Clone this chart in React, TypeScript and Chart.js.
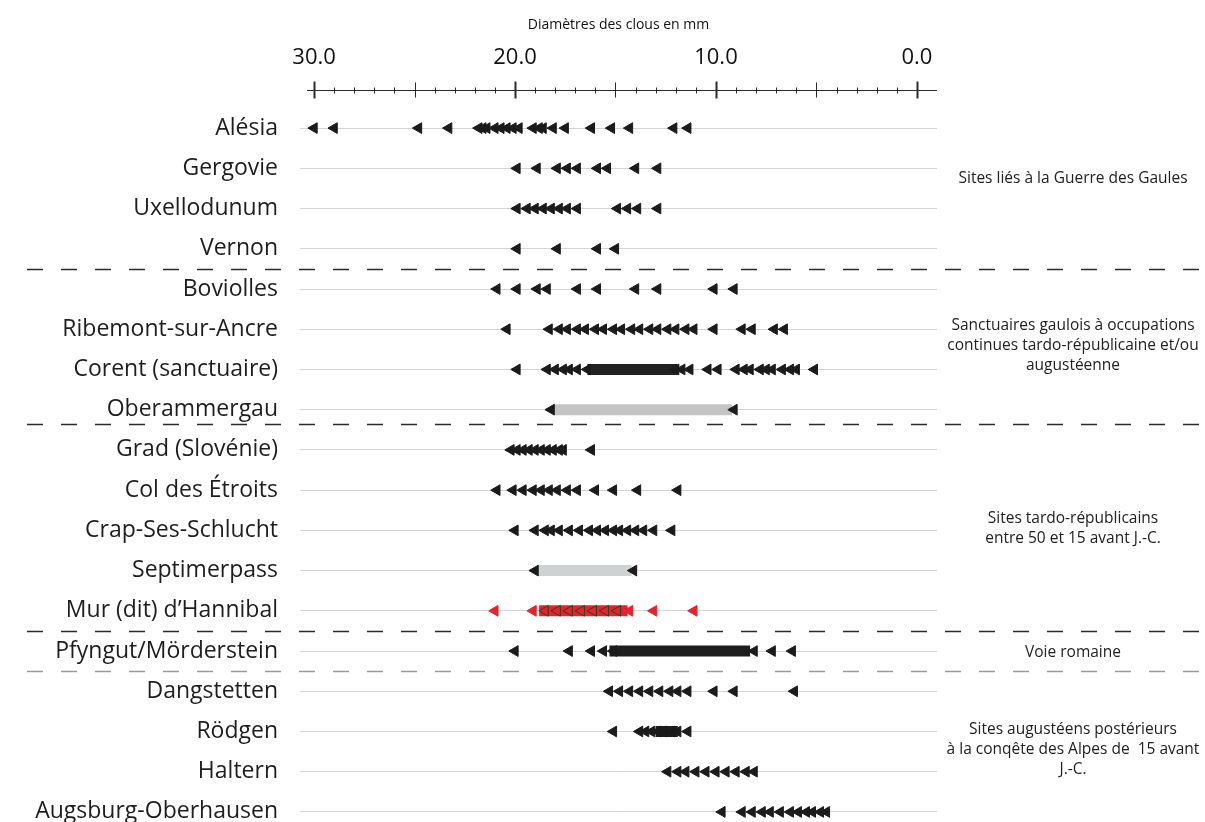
import React, { useEffect, useRef } from "react";
import { Chart, registerables } from "chart.js";
Chart.register(...registerables);

const FONT = "'Open Sans', 'Noto Sans', sans-serif";

const sites = [
  "Alésia", "Gergovie", "Uxellodunum", "Vernon", "Boviolles", "Ribemont-sur-Ancre",
  "Corent (sanctuaire)", "Oberammergau", "Grad (Slovénie)", "Col des Étroits",
  "Crap-Ses-Schlucht", "Septimerpass", "Mur (dit) d’Hannibal", "Pfyngut/Mörderstein",
  "Dangstetten", "Rödgen", "Haltern", "Augsburg-Oberhausen",
];

const xTickLabels = [30, 20, 10, 0];
const axisTitle = "Diamètres des clous en mm";

// nail diameters (mm) per site
const alesia = [30.0, 29.0, 24.8, 23.3, 21.8, 21.6, 21.4, 21.0, 20.7, 20.4, 20.1, 19.8, 19.1, 18.8, 18.6, 18.1, 17.5, 16.2, 15.2, 14.3, 12.1, 11.4];
const gergovie = [19.9, 18.9, 17.9, 17.4, 16.9, 15.9, 15.4, 14.0, 12.9];
const uxellodunum = [19.9, 19.4, 19.0, 18.6, 18.2, 17.8, 17.4, 16.9, 14.9, 14.4, 13.9, 12.9];
const vernon = [19.9, 17.9, 15.9, 15.0];
const boviolles = [20.9, 19.9, 18.9, 18.4, 16.9, 15.9, 14.0, 12.9, 10.1, 9.1];
const ribemont = [20.4, 18.3, 17.8, 17.4, 16.9, 16.5, 16.0, 15.6, 15.1, 14.7, 14.2, 13.8, 13.3, 12.9, 12.4, 12.0, 11.5, 11.1, 10.1, 8.7, 8.2, 7.1, 6.6];
const corent = [19.9, 18.4, 18.0, 17.6, 17.3, 16.9, 16.4, 12.0, 11.7, 11.3, 10.4, 9.9, 9.0, 8.6, 8.3, 7.8, 7.5, 7.2, 6.7, 6.3, 6.0, 5.1];
const oberammergau = [18.2, 9.1];
const grad = [20.2, 19.9, 19.6, 19.3, 19.0, 18.7, 18.4, 18.1, 17.8, 17.6, 16.2];
const colEtroits = [20.9, 20.1, 19.6, 19.1, 18.7, 18.3, 17.9, 17.4, 16.9, 16.0, 15.1, 13.9, 11.9];
const crapSes = [20.0, 19.0, 18.5, 18.2, 17.8, 17.3, 16.8, 16.3, 15.9, 15.5, 15.1, 14.8, 14.4, 14.0, 13.6, 13.1, 12.2];
const septimerpass = [19.0, 14.1];
const murHannibal = [21.0, 19.1, 18.5, 17.9, 17.3, 16.7, 16.1, 15.5, 14.9, 14.3, 13.1, 11.1];
const pfyngut = [20.0, 17.3, 16.2, 15.6, 15.1, 8.1, 7.2, 6.2];
const dangstetten = [15.3, 14.8, 14.3, 13.8, 13.3, 12.8, 12.3, 11.9, 11.4, 10.1, 9.1, 6.1];
const rodgen = [15.1, 13.8, 13.5, 13.2, 12.9, 12.6, 12.2, 11.9, 11.4];
const haltern = [12.4, 11.9, 11.5, 11.0, 10.5, 10.0, 9.5, 9.0, 8.5, 8.1];
const augsburg = [9.7, 8.7, 8.2, 7.7, 7.3, 6.8, 6.3, 5.9, 5.5, 5.2, 4.8, 4.5];

// dense ranges drawn as continuous bars [from, to] in mm
const corentRange = [16.4, 11.9];
const oberammergauRange = [18.1, 9.2];
const septimerRange = [18.9, 14.2];
const murRange = [18.8, 14.4];
const pfyngutRange = [15.3, 8.3];
const rodgenRange = [13.0, 11.9];

const separatorsAt = [3.5, 7.35, 12.5, 13.5];
const groupNotes = [
  { lines: ["Sites liés à la Guerre des Gaules"], at: 1.25 },
  { lines: ["Sanctuaires gaulois à occupations", "continues tardo-républicaine et/ou", "augustéenne"], at: 5.4 },
  { lines: ["Sites tardo-républicains", "entre 50 et 15 avant J.-C."], at: 9.95 },
  { lines: ["Voie romaine"], at: 13.05 },
  { lines: ["Sites augustéens postérieurs", "à la conqête des Alpes de  15 avant", "J.-C."], at: 15.45 },
];

const BLACK = "#1b1b1b";
const RED = "#e5232a";

const pointRows = [
  { row: 0, values: alesia, color: BLACK },
  { row: 1, values: gergovie, color: BLACK },
  { row: 2, values: uxellodunum, color: BLACK },
  { row: 3, values: vernon, color: BLACK },
  { row: 4, values: boviolles, color: BLACK },
  { row: 5, values: ribemont, color: BLACK },
  { row: 6, values: corent, color: BLACK },
  { row: 7, values: oberammergau, color: BLACK },
  { row: 8, values: grad, color: BLACK },
  { row: 9, values: colEtroits, color: BLACK },
  { row: 10, values: crapSes, color: BLACK },
  { row: 11, values: septimerpass, color: BLACK },
  { row: 12, values: murHannibal, color: RED, inner: murRange },
  { row: 13, values: pfyngut, color: BLACK },
  { row: 14, values: dangstetten, color: BLACK },
  { row: 15, values: rodgen, color: BLACK },
  { row: 16, values: haltern, color: BLACK },
  { row: 17, values: augsburg, color: BLACK },
];

const rangeRows = [
  { row: 6, range: corentRange, color: "#222222" },
  { row: 7, range: oberammergauRange, color: "#c4c4c4" },
  { row: 11, range: septimerRange, color: "#cdd2d2" },
  { row: 12, range: murRange, color: RED },
  { row: 13, range: pfyngutRange, color: "#1e1e1e" },
  { row: 15, range: rodgenRange, color: "#1e1e1e" },
];

const rulerPlugin = {
  id: "ruler",
  afterDraw(chart: any) {
    const xs = chart.scales.x;
    const ctx = chart.ctx;
    const y = Math.round(chart.chartArea.top - 18) + 0.5;
    ctx.save();
    ctx.strokeStyle = "#2a2a2a";
    ctx.lineWidth = 1;
    ctx.beginPath();
    ctx.moveTo(xs.getPixelForValue(30.35), y);
    ctx.lineTo(xs.getPixelForValue(-1), y);
    ctx.stroke();
    for (let v = 0; v <= 30; v++) {
      const px = Math.round(xs.getPixelForValue(v)) + 0.5;
      const m10 = v % 10 === 0;
      const m5 = v % 5 === 0;
      const up = m10 ? 9 : m5 ? 8 : 3;
      const down = m10 ? 8 : m5 ? 7 : 3;
      ctx.lineWidth = m10 ? 2 : 1;
      ctx.beginPath();
      ctx.moveTo(px, y - up);
      ctx.lineTo(px, y + down);
      ctx.stroke();
    }
    ctx.restore();
  },
};

const separatorPlugin = {
  id: "separators",
  afterDraw(chart: any) {
    const ys = chart.scales.y;
    const ctx = chart.ctx;
    ctx.save();
    ctx.lineWidth = 1.7;
    ctx.setLineDash([16, 18]);
    separatorsAt.forEach((at, i) => {
      const y = Math.round(ys.getPixelForValue(at)) + 0.5;
      ctx.strokeStyle = i === separatorsAt.length - 1 ? "#9a9a9a" : "#2a2a2a";
      ctx.beginPath();
      ctx.moveTo(27, y);
      ctx.lineTo(chart.width, y);
      ctx.stroke();
    });
    ctx.restore();
  },
};

const notesPlugin = {
  id: "notes",
  afterDraw(chart: any) {
    const ys = chart.scales.y;
    const ctx = chart.ctx;
    const cx = chart.chartArea.right + 136;
    const lh = 20;
    ctx.save();
    ctx.fillStyle = "#222";
    ctx.font = `15.5px ${FONT}`;
    ctx.textAlign = "center";
    ctx.textBaseline = "middle";
    groupNotes.forEach((g) => {
      const yc = ys.getPixelForValue(g.at);
      const y0 = yc - ((g.lines.length - 1) * lh) / 2;
      g.lines.forEach((line, k) => ctx.fillText(line, cx, y0 + k * lh));
    });
    ctx.restore();
  },
};

export default function App() {
  const ref = useRef<HTMLCanvasElement | null>(null);
  useEffect(() => {
    if (!ref.current) return;
    const datasets: any[] = [];
    rangeRows.forEach((r) => {
      datasets.push({
        type: "line",
        data: [
          { x: r.range[0], y: r.row },
          { x: r.range[1], y: r.row },
        ],
        borderColor: r.color,
        borderWidth: 11,
        borderCapStyle: "butt",
        pointRadius: 0,
        fill: false,
        clip: false,
        order: 2,
      });
    });
    pointRows.forEach((p) => {
      datasets.push({
        type: "scatter",
        data: p.values.map((v) => ({ x: v, y: p.row })),
        pointStyle: "triangle",
        rotation: -90,
        pointRadius: 6.2,
        pointBorderWidth: 1,
        backgroundColor: p.color,
        clip: false,
        borderColor: (c: any) => {
          if (p.inner && c.raw && c.raw.x <= p.inner[0] && c.raw.x >= p.inner[1]) return "#2e3d22";
          return p.color;
        },
        order: 1,
      });
    });

    const chart = new Chart(ref.current, {
      type: "scatter",
      data: { datasets },
      plugins: [rulerPlugin, separatorPlugin, notesPlugin],
      options: {
        responsive: false,
        animation: false,
        events: [],
        layout: { autoPadding: false, padding: { left: 0, right: 268, top: 0, bottom: 0 } },
        plugins: { legend: { display: false }, tooltip: { enabled: false }, title: { display: false } },
        scales: {
          x: {
            type: "linear",
            position: "top",
            reverse: true,
            min: -1,
            max: 30.7,
            afterFit: (s: any) => {
              s.height = 108;
              s.paddingLeft = 0;
              s.paddingRight = 0;
              s.paddingTop = 0;
              s.paddingBottom = 0;
            },
            afterBuildTicks: (s: any) => {
              s.ticks = xTickLabels.map((v) => ({ value: v }));
            },
            ticks: {
              callback: (v: any) => Number(v).toFixed(1),
              font: { family: FONT, size: 22 },
              color: "#111",
              padding: 29,
              maxRotation: 0,
              autoSkip: false,
            },
            grid: { display: false },
            border: { display: false },
            title: {
              display: true,
              text: axisTitle,
              font: { family: FONT, size: 14 },
              color: "#111",
              padding: { top: 17, bottom: 0 },
            },
          },
          y: {
            type: "linear",
            reverse: true,
            min: -0.5,
            max: 17.25,
            afterFit: (s: any) => {
              s.width = 300;
              s.paddingTop = 0;
              s.paddingBottom = 0;
              s.paddingLeft = 0;
              s.paddingRight = 0;
            },
            afterBuildTicks: (s: any) => {
              s.ticks = sites.map((_, i) => ({ value: i }));
            },
            ticks: {
              callback: (v: any) => sites[Math.round(Number(v))] ?? "",
              font: { family: FONT, size: 23 },
              color: "#1e1e1e",
              padding: 22,
              autoSkip: false,
            },
            grid: { color: "#d4d4d4", lineWidth: 1, drawTicks: false },
            border: { display: false },
          },
        },
      },
    } as any);
    return () => chart.destroy();
  }, []);

  return (
    <div style={{ position: "absolute", left: 0, top: 0, width: 1205, height: 822, background: "#fff", overflow: "hidden" }}>
      <canvas ref={ref} width={1205} height={822} style={{ width: 1205, height: 822, display: "block" }} />
    </div>
  );
}
